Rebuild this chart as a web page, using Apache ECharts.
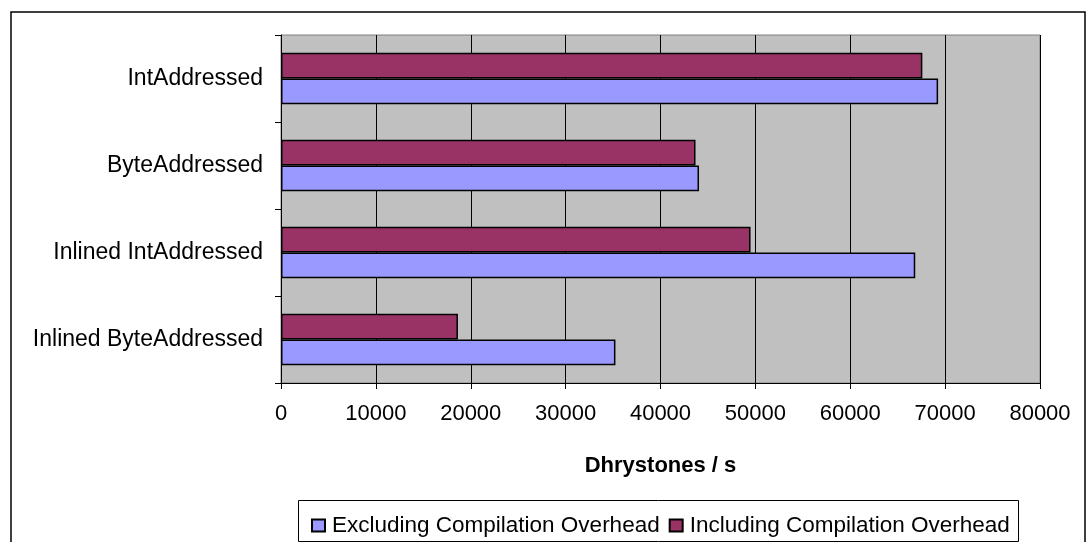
<!DOCTYPE html>
<html>
<head>
    <meta charset="UTF-8">
    <script src="https://cdn.jsdelivr.net/npm/echarts@6/dist/echarts.min.js"></script>
    <style>
        body { margin: 0; background: #fff; }
        #main { width: 1092px; height: 542px; }
    </style>
</head>
<body>
<div id="main"></div>
<script type="text/javascript">
    // categories bottom -> top (echarts category y axis starts at the bottom)
    var categories = ['Inlined ByteAddressed', 'Inlined IntAddressed', 'ByteAddressed', 'IntAddressed'];
    var excluding = [35250, 66850, 44060, 69260];
    var including = [18650, 49490, 43690, 67600];
    var seriesNames = ['Excluding Compilation Overhead', 'Including Compilation Overhead'];
    var xTicks = [0, 80000, 10000];

    var font = 'Liberation Sans, Arial, sans-serif';
    var myChart = echarts.init(document.getElementById('main'));
    var option = {
        animation: false,
        textStyle: {fontFamily: font},
        graphic: [
            {
                type: 'rect', z: -10,
                shape: {x: 11, y: 12, width: 1074, height: 540},
                style: {fill: '#fff', stroke: '#000', lineWidth: 1.5}
            },
            {
                type: 'rect', z: -5,
                shape: {x: 298.5, y: 500.5, width: 720, height: 41},
                style: {fill: '#fff', stroke: '#000', lineWidth: 1}
            }
        ],
        legend: {
            data: seriesNames,
            left: 306,
            top: 509,
            icon: 'rect',
            itemWidth: 13,
            itemHeight: 12,
            itemGap: 9,
            textStyle: {fontSize: 22.5, color: '#000', fontFamily: font, padding: [0, 0, 0, 2]}
        },
        grid: {
            left: 281,
            right: 52,
            top: 35,
            bottom: 159,
            show: true,
            backgroundColor: '#c0c0c0',
            borderColor: '#808080',
            borderWidth: 1
        },
        xAxis: {
            type: 'value',
            min: xTicks[0],
            max: xTicks[1],
            interval: xTicks[2],
            name: 'Dhrystones / s',
            nameLocation: 'middle',
            nameGap: 72,
            nameTextStyle: {fontSize: 22, fontWeight: 'bold', color: '#000', fontFamily: font},
            axisLine: {show: true, lineStyle: {color: '#000', width: 1}},
            axisTick: {show: true, length: 6, lineStyle: {color: '#000'}},
            axisLabel: {fontSize: 22, color: '#000', margin: 20, fontFamily: font,
                formatter: function (v) { return String(v); }},
            splitLine: {show: true, lineStyle: {color: '#000', width: 1}}
        },
        yAxis: {
            type: 'category',
            data: categories,
            axisLine: {show: true, lineStyle: {color: '#000', width: 1}},
            axisTick: {show: true, length: 6, lineStyle: {color: '#000'}},
            axisLabel: {fontSize: 23, color: '#000', margin: 18, fontFamily: font},
            splitLine: {show: false}
        },
        series: [
            {
                name: seriesNames[1],
                type: 'bar',
                data: including,
                barGap: '0%',
                barCategoryGap: '41%',
                itemStyle: {color: '#993366', borderColor: '#000', borderWidth: 1.5}
            },
            {
                name: seriesNames[0],
                type: 'bar',
                data: excluding,
                barGap: '0%',
                barCategoryGap: '41%',
                itemStyle: {color: '#9999ff', borderColor: '#000', borderWidth: 1.5}
            }
        ]
    };
    myChart.setOption(option);
</script>
</body>
</html>
